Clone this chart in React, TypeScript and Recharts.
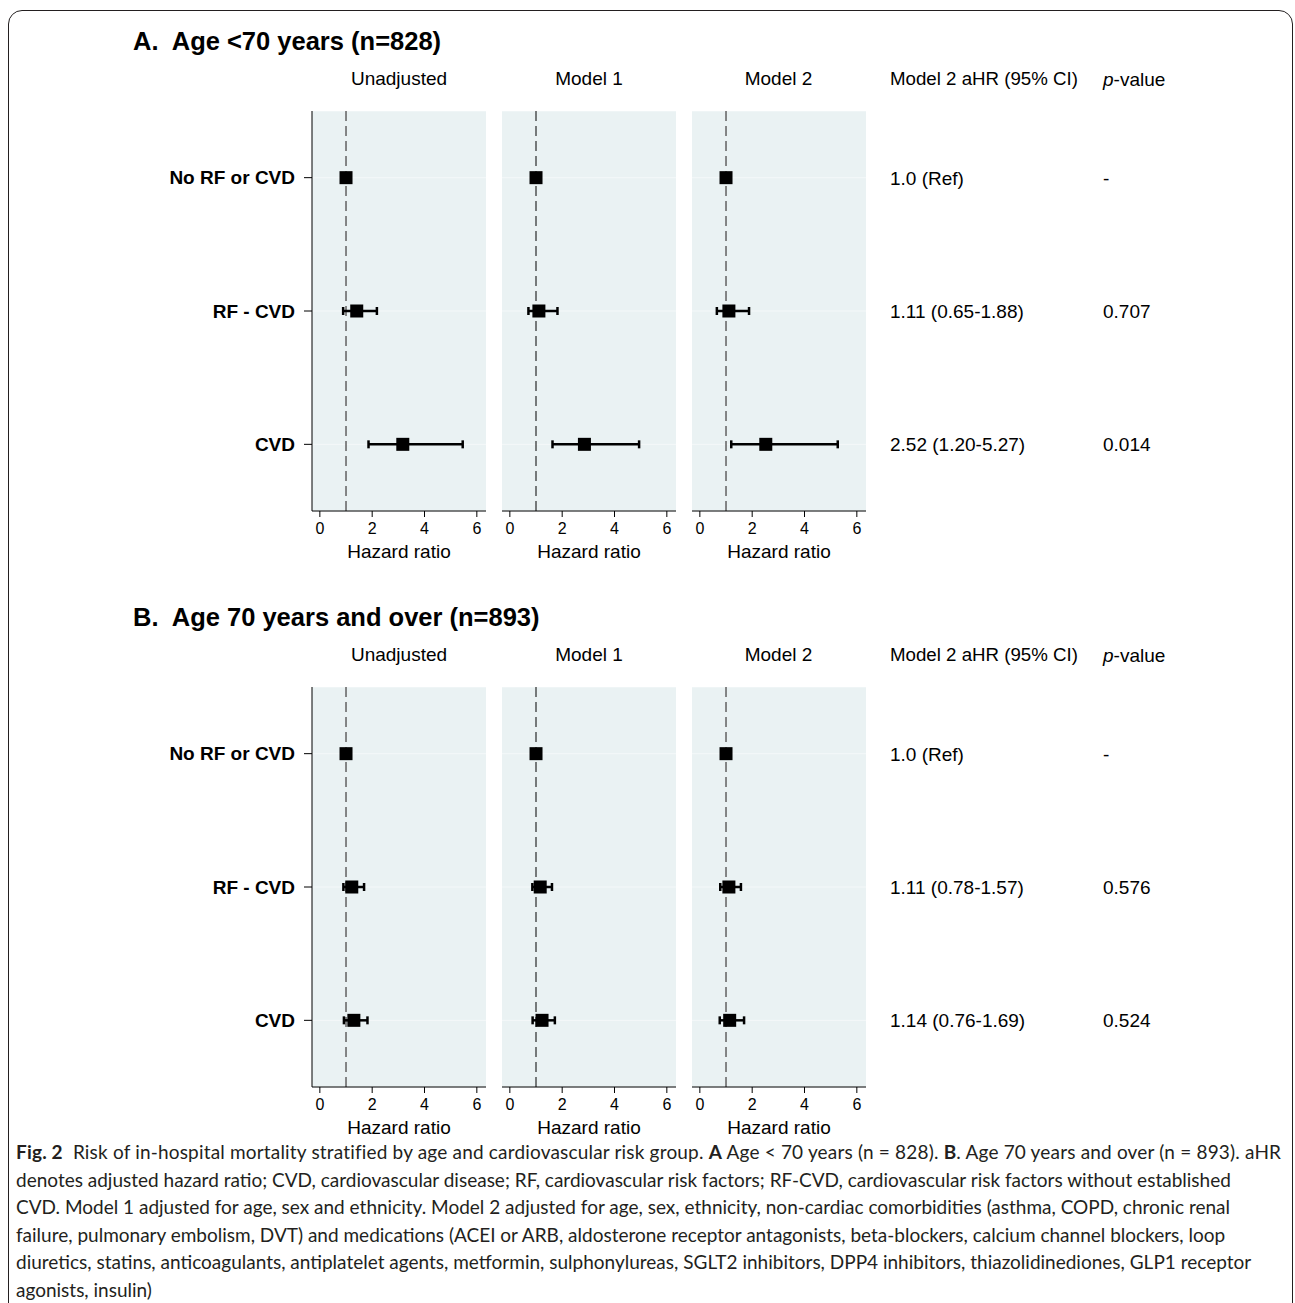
import React from "react";
import {
  CartesianGrid,
  ErrorBar,
  ReferenceLine,
  Scatter,
  ScatterChart,
  XAxis,
  YAxis,
} from "recharts";

const groups = ["No RF or CVD", "RF - CVD", "CVD"];
const models = ["Unadjusted", "Model 1", "Model 2"];
const xTicks = [0, 2, 4, 6];

// [hazard ratio, lower 95% CI, upper 95% CI] for each group
const under70Unadjusted = [[1.0, 1.0, 1.0], [1.41, 0.89, 2.18], [3.17, 1.86, 5.46]];
const under70Model1 = [[1.0, 1.0, 1.0], [1.11, 0.71, 1.82], [2.85, 1.63, 4.94]];
const under70Model2 = [[1.0, 1.0, 1.0], [1.11, 0.65, 1.88], [2.52, 1.2, 5.27]];
const under70P = ["-", "0.707", "0.014"];

const over70Unadjusted = [[1.0, 1.0, 1.0], [1.22, 0.9, 1.69], [1.3, 0.92, 1.82]];
const over70Model1 = [[1.0, 1.0, 1.0], [1.16, 0.86, 1.61], [1.23, 0.87, 1.72]];
const over70Model2 = [[1.0, 1.0, 1.0], [1.11, 0.78, 1.57], [1.14, 0.76, 1.69]];
const over70P = ["-", "0.576", "0.524"];

const FONT = "'Liberation Sans', Arial, Helvetica, sans-serif";
const PANEL_BG = "#EAF2F3";
const PLOT_W = 174;
const PLOT_H = 400;
const X_AXIS_H = 60;
const Y_AXIS_W = 192;
const PANEL_X = [312, 502, 691.5];
const REF_STYLE = [
  { stroke: "#6a6a6a", width: 1.6 },
  { stroke: "#000000", width: 1 },
  { stroke: "#6a6a6a", width: 1.6 },
];

const renderSquare = (p: any) => (
  <rect x={p.cx - 6.5} y={p.cy - 6.5} width={13} height={13} fill="#000" />
);

function ForestPlot({
  values,
  x,
  y,
  withLabels,
  refStroke,
  refWidth,
}: {
  values: number[][];
  x: number;
  y: number;
  withLabels: boolean;
  refStroke: string;
  refWidth: number;
}) {
  const data = values.map(([hr, lo, hi], i) => ({
    group: groups[i],
    hr,
    ci: [hr - lo, hi - hr],
  }));
  const yw = withLabels ? Y_AXIS_W : 0;
  return (
    <div style={{ position: "absolute", left: x - yw, top: y }}>
      <ScatterChart
        width={PLOT_W + yw}
        height={PLOT_H + X_AXIS_H}
        margin={{ top: 0, right: 0, bottom: 0, left: 0 }}
      >
        <CartesianGrid vertical={false} fill={PANEL_BG} fillOpacity={1} stroke="#F4F8F9" />
        <XAxis
          type="number"
          dataKey="hr"
          domain={[-0.3, 6.35]}
          ticks={xTicks}
          interval={0}
          height={X_AXIS_H}
          tickSize={6}
          tickMargin={6}
          axisLine={{ stroke: "#000" }}
          tickLine={{ stroke: "#000" }}
          tick={{ fontSize: 16, fill: "#000", fontFamily: FONT }}
          label={{
            value: "Hazard ratio",
            position: "insideBottom",
            offset: 13,
            fontSize: 19,
            fill: "#000",
            fontFamily: FONT,
          }}
        />
        <YAxis
          type="category"
          dataKey="group"
          reversed
          hide={!withLabels}
          width={yw}
          tickSize={8}
          tickMargin={9}
          axisLine={{ stroke: "#000" }}
          tickLine={{ stroke: "#000" }}
          tick={{ fontSize: 19, fontWeight: 700, fill: "#000", fontFamily: FONT }}
        />
        <ReferenceLine x={1} stroke={refStroke} strokeWidth={refWidth} strokeDasharray="10 5" />
        <Scatter data={data} shape={renderSquare} isAnimationActive={false}>
          <ErrorBar dataKey="ci" direction="x" width={4} stroke="#000" strokeWidth={2.5} />
        </Scatter>
      </ScatterChart>
    </div>
  );
}

const fmt = (v: number[]) =>
  v[0] === 1 && v[1] === 1 && v[2] === 1
    ? "1.0 (Ref)"
    : `${v[0].toFixed(2)} (${v[1].toFixed(2)}-${v[2].toFixed(2)})`;

function Label({ x, y, children, center, style }: any) {
  return (
    <div
      style={{
        position: "absolute",
        left: x,
        top: y,
        transform: center ? "translate(-50%, -50%)" : "translateY(-50%)",
        lineHeight: 1,
        whiteSpace: "pre",
        fontFamily: FONT,
        color: "#000",
        ...style,
      }}
    >
      {children}
    </div>
  );
}

function Section({
  top,
  title,
  panels,
  pValues,
}: {
  top: number;
  title: string;
  panels: number[][][];
  pValues: string[];
}) {
  const rowY = [0, 1, 2].map((i) => top + 111 + (PLOT_H / 3) * (i + 0.5));
  const model2 = panels[2];
  return (
    <>
      <Label x={133} y={top + 42} style={{ fontSize: 25.5, fontWeight: 700 }}>
        {title}
      </Label>
      {models.map((m, i) => (
        <Label key={m} x={PANEL_X[i] + PLOT_W / 2} y={top + 78} center style={{ fontSize: 19 }}>
          {m}
        </Label>
      ))}
      <Label x={890} y={top + 79} style={{ fontSize: 18.7 }}>
        Model 2 aHR (95% CI)
      </Label>
      <Label x={1103} y={top + 79} style={{ fontSize: 19 }}>
        <i>p</i>-value
      </Label>
      {panels.map((vals, i) => (
        <ForestPlot
          key={i}
          values={vals}
          x={PANEL_X[i]}
          y={top + 111}
          withLabels={i === 0}
          refStroke={REF_STYLE[i].stroke}
          refWidth={REF_STYLE[i].width}
        />
      ))}
      {model2.map((v, i) => (
        <Label key={"hr" + i} x={890} y={rowY[i]} style={{ fontSize: 19 }}>
          {fmt(v)}
        </Label>
      ))}
      {pValues.map((p, i) => (
        <Label key={"p" + i} x={1103} y={rowY[i]} style={{ fontSize: 19 }}>
          {p}
        </Label>
      ))}
    </>
  );
}

const captionLines = [
  <>
    <b>Fig. 2</b>{"  "}Risk of in-hospital mortality stratified by age and cardiovascular risk group. <b>A</b> Age {"<"} 70 years (n = 828). <b>B</b>. Age 70 years and over (n = 893). aHR
  </>,
  <>denotes adjusted hazard ratio; CVD, cardiovascular disease; RF, cardiovascular risk factors; RF-CVD, cardiovascular risk factors without established</>,
  <>CVD. Model 1 adjusted for age, sex and ethnicity. Model 2 adjusted for age, sex, ethnicity, non-cardiac comorbidities (asthma, COPD, chronic renal</>,
  <>failure, pulmonary embolism, DVT) and medications (ACEI or ARB, aldosterone receptor antagonists, beta-blockers, calcium channel blockers, loop</>,
  <>diuretics, statins, anticoagulants, antiplatelet agents, metformin, sulphonylureas, SGLT2 inhibitors, DPP4 inhibitors, thiazolidinediones, GLP1 receptor</>,
  <>agonists, insulin)</>,
];

export default function App() {
  return (
    <div
      style={{
        position: "absolute",
        left: 0,
        top: 0,
        width: 1295,
        height: 1303,
        overflow: "hidden",
        background: "#fff",
      }}
    >
      <div
        style={{
          position: "absolute",
          left: 8,
          top: 10,
          width: 1285,
          height: 1400,
          border: "1.5px solid #231f20",
          borderRadius: "14px 14px 0 0",
          boxSizing: "border-box",
        }}
      />
      <Section
        top={0}
        title="A.  Age <70 years (n=828)"
        panels={[under70Unadjusted, under70Model1, under70Model2]}
        pValues={under70P}
      />
      <Section
        top={576}
        title="B.  Age 70 years and over (n=893)"
        panels={[over70Unadjusted, over70Model1, over70Model2]}
        pValues={over70P}
      />
      {captionLines.map((line, i) => (
        <div
          key={i}
          style={{
            position: "absolute",
            left: 16,
            top: 1152 - 13.75 + i * 27.5,
            lineHeight: "27.5px",
            whiteSpace: "pre",
            fontFamily: "Lato, sans-serif",
            fontSize: 19,
            letterSpacing: i === 0 ? 0.18 : 0,
            color: "#231f20",
          }}
        >
          {line}
        </div>
      ))}
    </div>
  );
}
